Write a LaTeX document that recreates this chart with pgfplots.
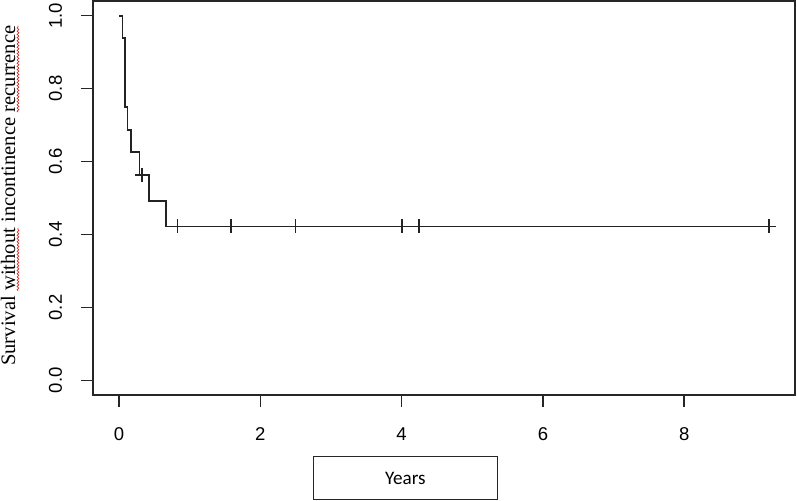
\documentclass[border=0pt]{standalone}
\usepackage{pgfplots}
\pgfplotsset{compat=1.18}
\usepackage{fontspec}
\setmainfont{Liberation Sans}
\newfontfamily\serifface{Liberation Serif}
\newfontfamily\calibface{Carlito}
\usetikzlibrary{decorations.pathmorphing}
\definecolor{squigred}{RGB}{215,45,45}
\definecolor{curve}{RGB}{35,35,35}
\newcommand\squig[1]{\tikz[baseline=(w.base)]{\node[inner sep=0pt,outer sep=0pt,anchor=base](w) at (0,0){#1};%
\draw[squigred,line width=0.35bp,decorate,decoration={snake,amplitude=0.45bp,segment length=1.6bp}] ([yshift=-1.5bp]w.base west) -- ([yshift=-1.5bp]w.base east);}}
\begin{document}
\begin{tikzpicture}
\begin{axis}[
  at={(46.5bp,53bp)}, anchor=south west,
  scale only axis, width=351bp, height=197bp,
  xmin=-0.368, xmax=9.568, ymin=-0.04, ymax=1.04,
  xtick={0,2,4,6,8}, ytick={0,0.2,0.4,0.6,0.8,1.0},
  xtick pos=bottom, ytick pos=left,
  tick align=outside, major tick length=6bp,
  tick style={black!85, line width=0.8bp},
  axis line style={black!85, line width=0.8bp},
  ticklabel style={font=\fontsize{9.3}{11}\selectfont, inner sep=0pt},
  /pgf/number format/assume math mode=true,
  xticklabel style={anchor=north},
  xticklabel shift=10bp,
  yticklabel style={rotate=90, anchor=south, /pgf/number format/.cd, fixed, fixed zerofill, precision=1},
  yticklabel shift=9.3bp,
  xlabel={\calibface\fontsize{9.6}{11}\selectfont Years},
  xlabel style={at={(axis description cs:0.4451,-0.2107)}, anchor=center, draw=black!85, line width=0.7bp,
     minimum width=92.2bp, minimum height=21.3bp, inner sep=0pt},
  clip=false,
]
\addplot[const plot, curve, line width=0.95bp] coordinates {
 (0,1) (0.05,0.9375) (0.085,0.75) (0.12,0.6875) (0.165,0.625) (0.29,0.5625)
 (0.42,0.4922) (0.67,0.4219) (9.2,0.4219)};
\addplot[only marks, mark=+, mark size=3.5bp, curve, mark options={line width=0.85bp}] coordinates {
 (0.33,0.5625) (0.83,0.4219) (1.585,0.4219) (2.5,0.4219) (4.005,0.4219) (4.25,0.4219) (9.2,0.4219)};
\end{axis}
\node[rotate=90, anchor=base, inner sep=0pt, font=\serifface\fontsize{10.3}{12}\selectfont] at (7.5bp,152.75bp)
  {Survival \squig{without} incontinence \squig{recurrence}};
\pgfresetboundingbox
\path[use as bounding box] (0,0) rectangle (398.5bp,250.5bp);
\end{tikzpicture}
\end{document}
